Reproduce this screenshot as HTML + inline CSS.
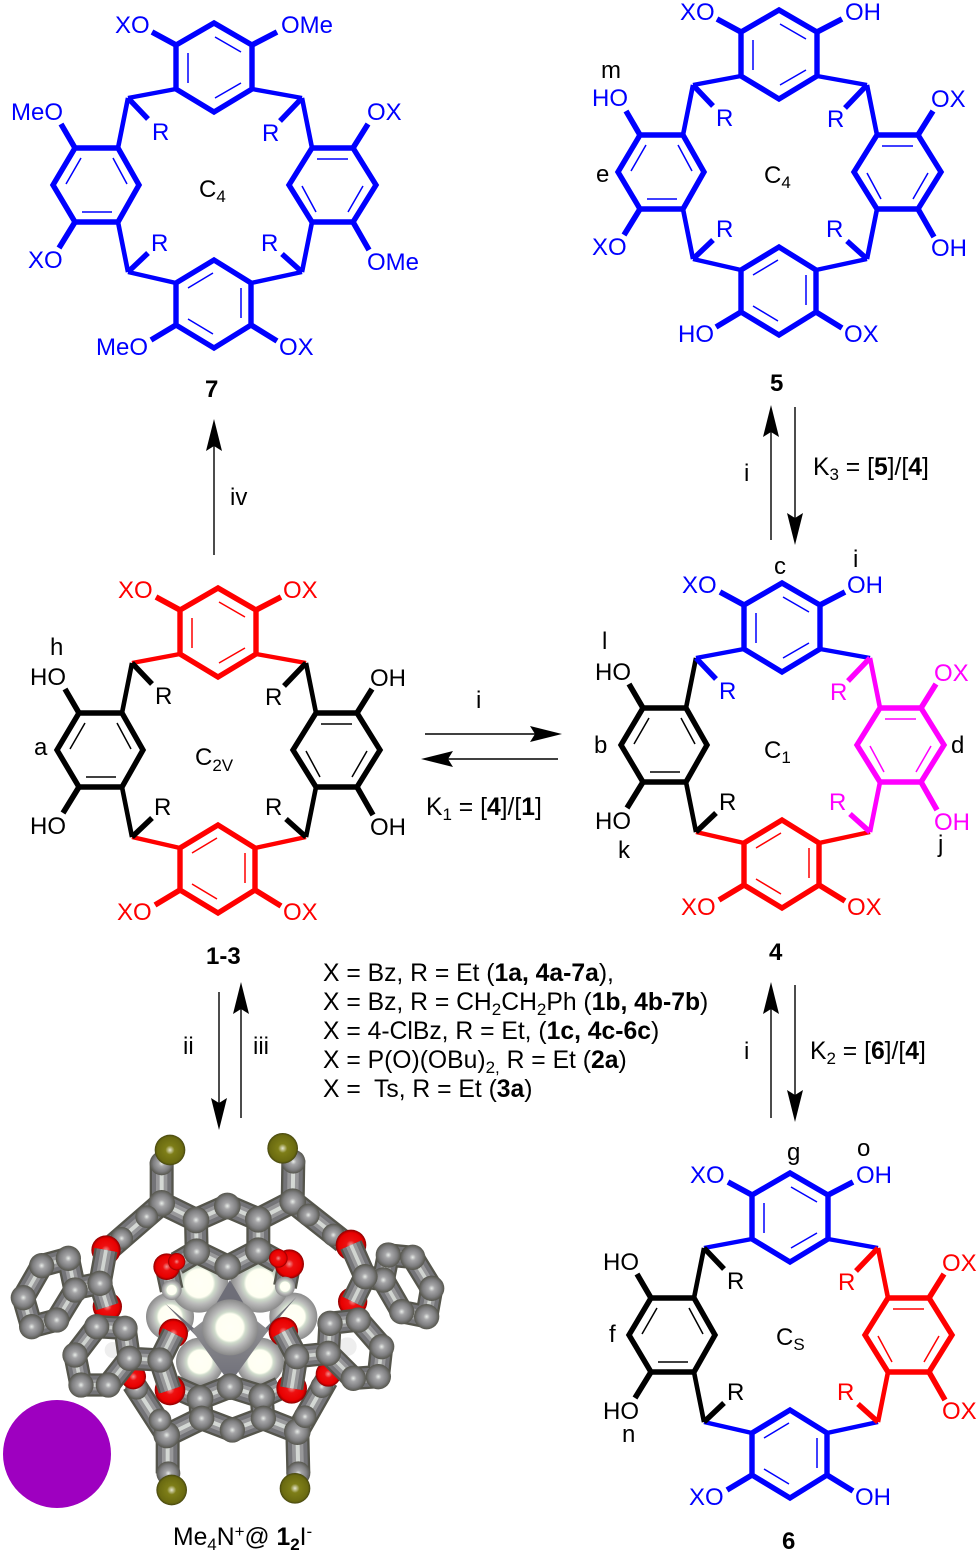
<!DOCTYPE html>
<html><head><meta charset="utf-8"><style>
html,body{margin:0;padding:0;background:#fff}
svg{display:block}
text{font-family:"Liberation Sans",sans-serif;font-size:24px;fill:#000}
.t{font-size:24.7px}
.b{font-weight:700}
.s{font-size:17px}
</style></head><body>
<svg xmlns="http://www.w3.org/2000/svg" width="980" height="1554" viewBox="0 0 980 1554">
<defs>
<g id="T" fill="none" stroke="currentColor" stroke-width="5.4"><path d="M218 588L256 610V654L218 677L180 654V610Z"/><path stroke-width="4.4" d="M180 654L132 663M256 654L306 663"/><path stroke-width="5.6" d="M180 610L156 597M256 610L281 597"/><path stroke-width="1.5" d="M192 618V648M219 602L245 617M219 663L245 648"/></g>
<g id="B" fill="none" stroke="currentColor" stroke-width="5.4"><path d="M218 825L255 848V890L218 913L180 890V848Z"/><path stroke-width="4.4" d="M180 848L132 837M255 848L306 837"/><path stroke-width="5.6" d="M180 890L155 905M255 890L281 906"/><path stroke-width="1.5" d="M192 853L217 838M245 853V883M192 884L217 899"/></g>
<g id="L" fill="none" stroke="currentColor" stroke-width="5.4"><path d="M79 713H122L143 750L122 787H79L57 750Z"/><path stroke-width="4.6" d="M122 713L132 663M122 787L132 837"/><path stroke-width="5.6" d="M79 713L65 689M79 787L63 813"/><path stroke-width="1.5" d="M70 749L85 723M117 723L131 749M86 777H116"/></g>
<g id="R" fill="none" stroke="currentColor" stroke-width="5.4"><path d="M316 713H357L380 750L357 787H316L293 750Z"/><path stroke-width="4.6" d="M316 713L306 663M316 787L306 837"/><path stroke-width="5.6" d="M357 713L372 689M357 787L373 815"/><path stroke-width="1.5" d="M321 724H352M306 751L320 777M352 777L367 751"/></g>
<path id="s1" stroke="currentColor" stroke-width="5.4" d="M132 663L152 684"/>
<path id="s2" stroke="currentColor" stroke-width="5.4" d="M306 663L284 686"/>
<path id="s3" stroke="currentColor" stroke-width="5.4" d="M132 837L152 818"/>
<path id="s4" stroke="currentColor" stroke-width="5.4" d="M306 837L286 819"/>
<path id="h" d="M0 0L-32 -8L-27 0L-32 8Z" fill="#000"/>
<radialGradient id="gA" cx=".5" cy=".5" r=".5"><stop offset="0" stop-color="#e8ece8"/><stop offset=".25" stop-color="#a6a6a8"/><stop offset=".7" stop-color="#7e7e80"/><stop offset="1" stop-color="#55554c"/></radialGradient>
<radialGradient id="rA" cx=".5" cy=".5" r=".5"><stop offset="0" stop-color="#f09090"/><stop offset=".3" stop-color="#ee1010"/><stop offset=".8" stop-color="#e80000"/><stop offset="1" stop-color="#8a0000"/></radialGradient>
<radialGradient id="oA" cx=".5" cy=".5" r=".5"><stop offset="0" stop-color="#e6e6d0"/><stop offset=".3" stop-color="#7e7e18"/><stop offset=".85" stop-color="#6a6a10"/><stop offset="1" stop-color="#454510"/></radialGradient>
<radialGradient id="wA" cx=".5" cy=".5" r=".5"><stop offset="0" stop-color="#fffff6"/><stop offset=".48" stop-color="#fffff2"/><stop offset=".56" stop-color="#d0dccc"/><stop offset=".72" stop-color="#b8b8b8"/><stop offset="1" stop-color="#8a8a8a"/></radialGradient>
<linearGradient id="cn" x1="0" y1="0" x2="0" y2="1"><stop offset="0" stop-color="#9a9a9a"/><stop offset="1" stop-color="#6e6e78"/></linearGradient>
<path id="st1" d="M485 125V250L588 300L682 258L775 298L878 245L880 120M588 300L590 395L683 440L775 392L775 298M485 250L335 380M878 245L1030 365M590 395L530 430M775 392L835 425M500 440L515 510M868 432L855 500"/>
<path id="st2" d="M600 835L690 800L785 830M600 835L605 895M785 830L790 895M503 1060V945L605 895L697 930L790 895L892 935L895 1060M500 945L400 790M892 935L980 780M520 800L600 835M840 805L785 830"/>
<path id="st3" d="M125 437L205 415L225 510L170 600L95 620L70 533ZM225 505L300 490L318 390M300 490L322 560M1165 405L1238 412L1295 505L1280 590L1205 575L1150 480ZM1150 480L1095 470L1053 375M1095 470L1058 545"/>
<path id="st4" d="M290 620L375 625L388 715L325 795L243 795L225 705ZM388 715L480 720L520 640M480 720L510 810M990 610L1075 600L1145 680L1135 770L1060 775L985 700ZM985 700L890 710L850 635M890 710L875 805"/>
<g id="sk1" fill="none" stroke-linejoin="round"><use href="#st1" stroke="#55554c" stroke-width="72"/><use href="#st1" stroke="#747478" stroke-width="58"/><use href="#st1" stroke="#98989a" stroke-width="34"/><use href="#st1" stroke="#d4d8d4" stroke-width="12"/></g>
<g id="sk2" fill="none" stroke-linejoin="round"><use href="#st2" stroke="#55554c" stroke-width="72"/><use href="#st2" stroke="#747478" stroke-width="58"/><use href="#st2" stroke="#98989a" stroke-width="34"/><use href="#st2" stroke="#d4d8d4" stroke-width="12"/></g>
<g id="sk3" fill="none" stroke-linejoin="round"><use href="#st3" stroke="#55554c" stroke-width="70"/><use href="#st3" stroke="#747478" stroke-width="56"/><use href="#st3" stroke="#98989a" stroke-width="32"/><use href="#st3" stroke="#d0d4d0" stroke-width="11"/></g>
<g id="sk4" fill="none" stroke-linejoin="round"><use href="#st4" stroke="#55554c" stroke-width="70"/><use href="#st4" stroke="#747478" stroke-width="56"/><use href="#st4" stroke="#98989a" stroke-width="32"/><use href="#st4" stroke="#d0d4d0" stroke-width="11"/></g>
</defs>
<rect width="980" height="1554" fill="#fff"/>

<!-- 1-3 C2V -->
<g style="color:#ff0000"><use href="#T"/><use href="#B"/></g>
<g style="color:#000"><use href="#L"/><use href="#R"/><use href="#s1"/><use href="#s2"/><use href="#s3"/><use href="#s4"/></g>
<text x="118" y="598" style="fill:#ff0000">XO</text><text x="283" y="598" style="fill:#ff0000">OX</text>
<text x="117" y="920" style="fill:#ff0000">XO</text><text x="283" y="920" style="fill:#ff0000">OX</text>
<text x="30" y="685">HO</text><text x="30" y="834">HO</text><text x="370" y="686">OH</text><text x="370" y="835">OH</text>
<text x="155" y="704">R</text><text x="265" y="705">R</text><text x="154" y="815">R</text><text x="265" y="815">R</text>
<text x="195" y="765">C<tspan class="s" dy="6">2V</tspan></text>
<text x="50" y="655">h</text><text x="34" y="755">a</text>

<!-- 7 -->
<g transform="translate(-4 -565)" style="color:#0000ff"><use href="#T"/><use href="#B"/><use href="#L"/><use href="#R"/><use href="#s1"/><use href="#s2"/><use href="#s3"/><use href="#s4"/></g>
<text x="115" y="33" style="fill:#0000ff">XO</text><text x="281" y="33" style="fill:#0000ff">OMe</text>
<text x="11" y="120" style="fill:#0000ff">MeO</text><text x="28" y="268" style="fill:#0000ff">XO</text>
<text x="367" y="120" style="fill:#0000ff">OX</text><text x="367" y="270" style="fill:#0000ff">OMe</text>
<text x="96" y="355" style="fill:#0000ff">MeO</text><text x="279" y="355" style="fill:#0000ff">OX</text>
<text x="152" y="140" style="fill:#0000ff">R</text><text x="262" y="141" style="fill:#0000ff">R</text>
<text x="151" y="251" style="fill:#0000ff">R</text><text x="261" y="251" style="fill:#0000ff">R</text>
<text x="199" y="197">C<tspan class="s" dy="5">4</tspan></text>
<text x="205" y="397" class="b">7</text>

<!-- 5 -->
<g transform="translate(561 -578)" style="color:#0000ff"><use href="#T"/><use href="#B"/><use href="#L"/><use href="#R"/><use href="#s1"/><use href="#s2"/><use href="#s3"/><use href="#s4"/></g>
<text x="680" y="20" style="fill:#0000ff">XO</text><text x="845" y="20" style="fill:#0000ff">OH</text>
<text x="592" y="106" style="fill:#0000ff">HO</text><text x="592" y="255" style="fill:#0000ff">XO</text>
<text x="931" y="107" style="fill:#0000ff">OX</text><text x="931" y="256" style="fill:#0000ff">OH</text>
<text x="678" y="342" style="fill:#0000ff">HO</text><text x="844" y="342" style="fill:#0000ff">OX</text>
<text x="716" y="126" style="fill:#0000ff">R</text><text x="827" y="127" style="fill:#0000ff">R</text>
<text x="716" y="237" style="fill:#0000ff">R</text><text x="826" y="237" style="fill:#0000ff">R</text>
<text x="764" y="183">C<tspan class="s" dy="5">4</tspan></text>
<text x="601" y="78">m</text><text x="596" y="182">e</text>
<text x="770" y="391" class="b">5</text>

<!-- 4 -->
<g transform="translate(564 -5)"><use href="#T" style="color:#0000ff"/><use href="#B" style="color:#ff0000"/><use href="#L" style="color:#000"/><use href="#R" style="color:#ff00ff"/><use href="#s1" style="color:#0000ff"/><use href="#s2" style="color:#ff00ff"/><use href="#s3" style="color:#000"/><use href="#s4" style="color:#ff00ff"/></g>
<text x="682" y="593" style="fill:#0000ff">XO</text><text x="847" y="593" style="fill:#0000ff">OH</text>
<text x="595" y="680">HO</text><text x="595" y="829">HO</text>
<text x="934" y="681" style="fill:#ff00ff">OX</text><text x="934" y="830" style="fill:#ff00ff">OH</text>
<text x="681" y="915" style="fill:#ff0000">XO</text><text x="847" y="915" style="fill:#ff0000">OX</text>
<text x="719" y="699" style="fill:#0000ff">R</text><text x="830" y="700" style="fill:#ff00ff">R</text>
<text x="719" y="810">R</text><text x="829" y="810" style="fill:#ff00ff">R</text>
<text x="764" y="758">C<tspan class="s" dy="5">1</tspan></text>
<text x="774" y="574">c</text><text x="853" y="567">i</text><text x="602" y="649">l</text><text x="594" y="753">b</text><text x="951" y="753">d</text><text x="618" y="858">k</text><text x="938" y="852">j</text>
<text x="769" y="960" class="b">4</text>

<!-- 6 -->
<g transform="translate(572 585)"><use href="#T" style="color:#0000ff"/><use href="#B" style="color:#0000ff"/><use href="#L" style="color:#000"/><use href="#R" style="color:#ff0000"/><use href="#s1" style="color:#000"/><use href="#s2" style="color:#ff0000"/><use href="#s3" style="color:#000"/><use href="#s4" style="color:#ff0000"/></g>
<text x="690" y="1183" style="fill:#0000ff">XO</text><text x="856" y="1183" style="fill:#0000ff">OH</text>
<text x="603" y="1270">HO</text><text x="603" y="1419">HO</text>
<text x="942" y="1271" style="fill:#ff0000">OX</text><text x="942" y="1419" style="fill:#ff0000">OX</text>
<text x="689" y="1505" style="fill:#0000ff">XO</text><text x="855" y="1505" style="fill:#0000ff">OH</text>
<text x="727" y="1289">R</text><text x="838" y="1290" style="fill:#ff0000">R</text>
<text x="727" y="1400">R</text><text x="837" y="1400" style="fill:#ff0000">R</text>
<text x="776" y="1345">C<tspan class="s" dy="5">S</tspan></text>
<text x="787" y="1160">g</text><text x="857" y="1156">o</text><text x="609" y="1342">f</text><text x="622" y="1442">n</text>
<text x="782" y="1549" class="b">6</text>

<!-- arrows -->
<g stroke="#000" stroke-width="1.4" fill="none">
<path d="M214 555V440M771 540V425M795 407V525M771 1118V1002M795 985V1102M219 992V1108M241 1118V1002M425 734H535M558 759H448"/>
</g>
<use href="#h" transform="translate(214 419) rotate(-90)"/>
<use href="#h" transform="translate(771 405) rotate(-90)"/>
<use href="#h" transform="translate(795 545) rotate(90)"/>
<use href="#h" transform="translate(771 982) rotate(-90)"/>
<use href="#h" transform="translate(795 1122) rotate(90)"/>
<use href="#h" transform="translate(219 1130) rotate(90)"/>
<use href="#h" transform="translate(241 982) rotate(-90)"/>
<use href="#h" transform="translate(562 734)"/>
<use href="#h" transform="translate(421 759) rotate(180)"/>

<text x="230" y="505">iv</text>
<text x="744" y="481">i</text>
<text x="813" y="475" class="t">K<tspan class="s" dy="5">3</tspan><tspan dy="-5"> = [</tspan><tspan class="b">5</tspan>]/[<tspan class="b">4</tspan>]</text>
<text x="476" y="708">i</text>
<text x="426" y="815" class="t">K<tspan class="s" dy="5">1</tspan><tspan dy="-5"> = [</tspan><tspan class="b">4</tspan>]/[<tspan class="b">1</tspan>]</text>
<text x="744" y="1059">i</text>
<text x="810" y="1059" class="t">K<tspan class="s" dy="5">2</tspan><tspan dy="-5"> = [</tspan><tspan class="b">6</tspan>]/[<tspan class="b">4</tspan>]</text>
<text x="183" y="1054">ii</text><text x="253" y="1054">iii</text>
<text x="206" y="964" class="b">1-3</text>

<text x="323" y="981" class="t">X = Bz, R = Et (<tspan class="b">1a, 4a-7a</tspan>),</text>
<text x="323" y="1010" class="t">X = Bz, R = CH<tspan class="s" dy="5">2</tspan><tspan dy="-5">CH</tspan><tspan class="s" dy="5">2</tspan><tspan dy="-5">Ph (</tspan><tspan class="b">1b, 4b-7b</tspan>)</text>
<text x="323" y="1039" class="t">X = 4-ClBz, R = Et, (<tspan class="b">1c, 4c-6c</tspan>)</text>
<text x="323" y="1068" class="t">X = P(O)(OBu)<tspan class="s" dy="5">2,</tspan><tspan dy="-5"> R = Et (</tspan><tspan class="b">2a</tspan>)</text>
<text x="323" y="1097" class="t">X =&#160; Ts, R = Et (<tspan class="b">3a</tspan>)</text>

<!-- model -->
<circle cx="57" cy="1454" r="54" fill="#9e00c0"/>
<g transform="translate(0 1120) scale(.33333)">
<circle cx="510" cy="590" r="72" fill="url(#wA)"/><circle cx="880" cy="590" r="72" fill="url(#wA)"/>
<circle cx="597" cy="490" r="88" fill="url(#wA)"/><circle cx="780" cy="490" r="88" fill="url(#wA)"/>
<circle cx="600" cy="725" r="72" fill="url(#wA)"/><circle cx="780" cy="725" r="72" fill="url(#wA)"/>
<circle cx="338" cy="690" r="24" fill="#eee"/><circle cx="1042" cy="680" r="28" fill="#eee"/>
<path d="M495 550L590 650L690 480L790 650L890 530L780 640L690 780L600 640Z" fill="#6e6e78"/>
<path d="M575 630L690 540L805 630L690 790Z" fill="url(#cn)"/>
<circle cx="690" cy="622" r="84" fill="url(#wA)"/>
<use href="#sk1"/><use href="#sk2"/>
<g fill="url(#gA)">
<circle cx="485" cy="250" r="40"/><circle cx="588" cy="300" r="40"/><circle cx="682" cy="258" r="40"/><circle cx="775" cy="298" r="40"/><circle cx="878" cy="245" r="40"/>
<circle cx="590" cy="395" r="40"/><circle cx="775" cy="392" r="40"/><circle cx="683" cy="440" r="40"/>
<circle cx="690" cy="800" r="40"/><circle cx="600" cy="835" r="40"/><circle cx="785" cy="830" r="40"/>
<circle cx="605" cy="895" r="38"/><circle cx="697" cy="930" r="38"/><circle cx="790" cy="895" r="38"/><circle cx="500" cy="945" r="40"/><circle cx="892" cy="935" r="40"/>
<circle cx="485" cy="130" r="36"/><circle cx="880" cy="125" r="36"/><circle cx="505" cy="1060" r="36"/><circle cx="895" cy="1060" r="36"/>
<circle cx="440" cy="290" r="34"/><circle cx="365" cy="355" r="34"/><circle cx="925" cy="285" r="34"/><circle cx="1000" cy="345" r="34"/>
<circle cx="480" cy="900" r="34"/><circle cx="410" cy="805" r="34"/><circle cx="915" cy="890" r="34"/><circle cx="965" cy="800" r="34"/>
</g>
<g fill="url(#oA)"><circle cx="510" cy="90" r="46"/><circle cx="848" cy="85" r="46"/><circle cx="515" cy="1110" r="46"/><circle cx="885" cy="1105" r="46"/></g>
<g fill="url(#rA)">
<circle cx="500" cy="440" r="40"/><circle cx="868" cy="432" r="44"/><circle cx="835" cy="415" r="28"/><circle cx="530" cy="425" r="26"/>
<circle cx="318" cy="390" r="44"/><circle cx="322" cy="560" r="44"/><circle cx="1053" cy="375" r="46"/><circle cx="1058" cy="545" r="44"/>
<circle cx="400" cy="770" r="38"/><circle cx="985" cy="762" r="38"/>
</g>
<g fill="url(#wA)"><circle cx="515" cy="510" r="30"/><circle cx="855" cy="500" r="30"/></g>
<use href="#sk3"/>
<g fill="url(#gA)">
<circle cx="125" cy="437" r="38"/><circle cx="205" cy="415" r="38"/><circle cx="225" cy="510" r="38"/><circle cx="170" cy="600" r="38"/><circle cx="95" cy="620" r="38"/><circle cx="70" cy="533" r="38"/><circle cx="300" cy="490" r="38"/>
<circle cx="1165" cy="405" r="38"/><circle cx="1238" cy="412" r="38"/><circle cx="1295" cy="505" r="38"/><circle cx="1280" cy="590" r="38"/><circle cx="1205" cy="575" r="38"/><circle cx="1150" cy="480" r="38"/><circle cx="1095" cy="470" r="38"/>
</g>
<g fill="url(#rA)"><circle cx="520" cy="640" r="44"/><circle cx="510" cy="810" r="46"/><circle cx="850" cy="635" r="44"/><circle cx="875" cy="805" r="46"/></g>
<use href="#sk4"/>
<g fill="url(#gA)">
<circle cx="290" cy="620" r="38"/><circle cx="375" cy="625" r="38"/><circle cx="388" cy="715" r="38"/><circle cx="325" cy="795" r="38"/><circle cx="243" cy="795" r="38"/><circle cx="225" cy="705" r="38"/><circle cx="480" cy="720" r="38"/>
<circle cx="990" cy="610" r="38"/><circle cx="1075" cy="600" r="38"/><circle cx="1145" cy="680" r="38"/><circle cx="1135" cy="770" r="38"/><circle cx="1060" cy="775" r="38"/><circle cx="985" cy="700" r="38"/><circle cx="890" cy="710" r="38"/>
</g>
</g>
<text x="173" y="1545" class="t">Me<tspan class="s" dy="5">4</tspan><tspan dy="-5">N</tspan><tspan class="s" dy="-8">+</tspan><tspan dy="8">@ </tspan><tspan class="b">1</tspan><tspan class="b s" dy="5">2</tspan><tspan dy="-5">I</tspan><tspan class="s" dy="-8">-</tspan></text>
</svg>
</body></html>
